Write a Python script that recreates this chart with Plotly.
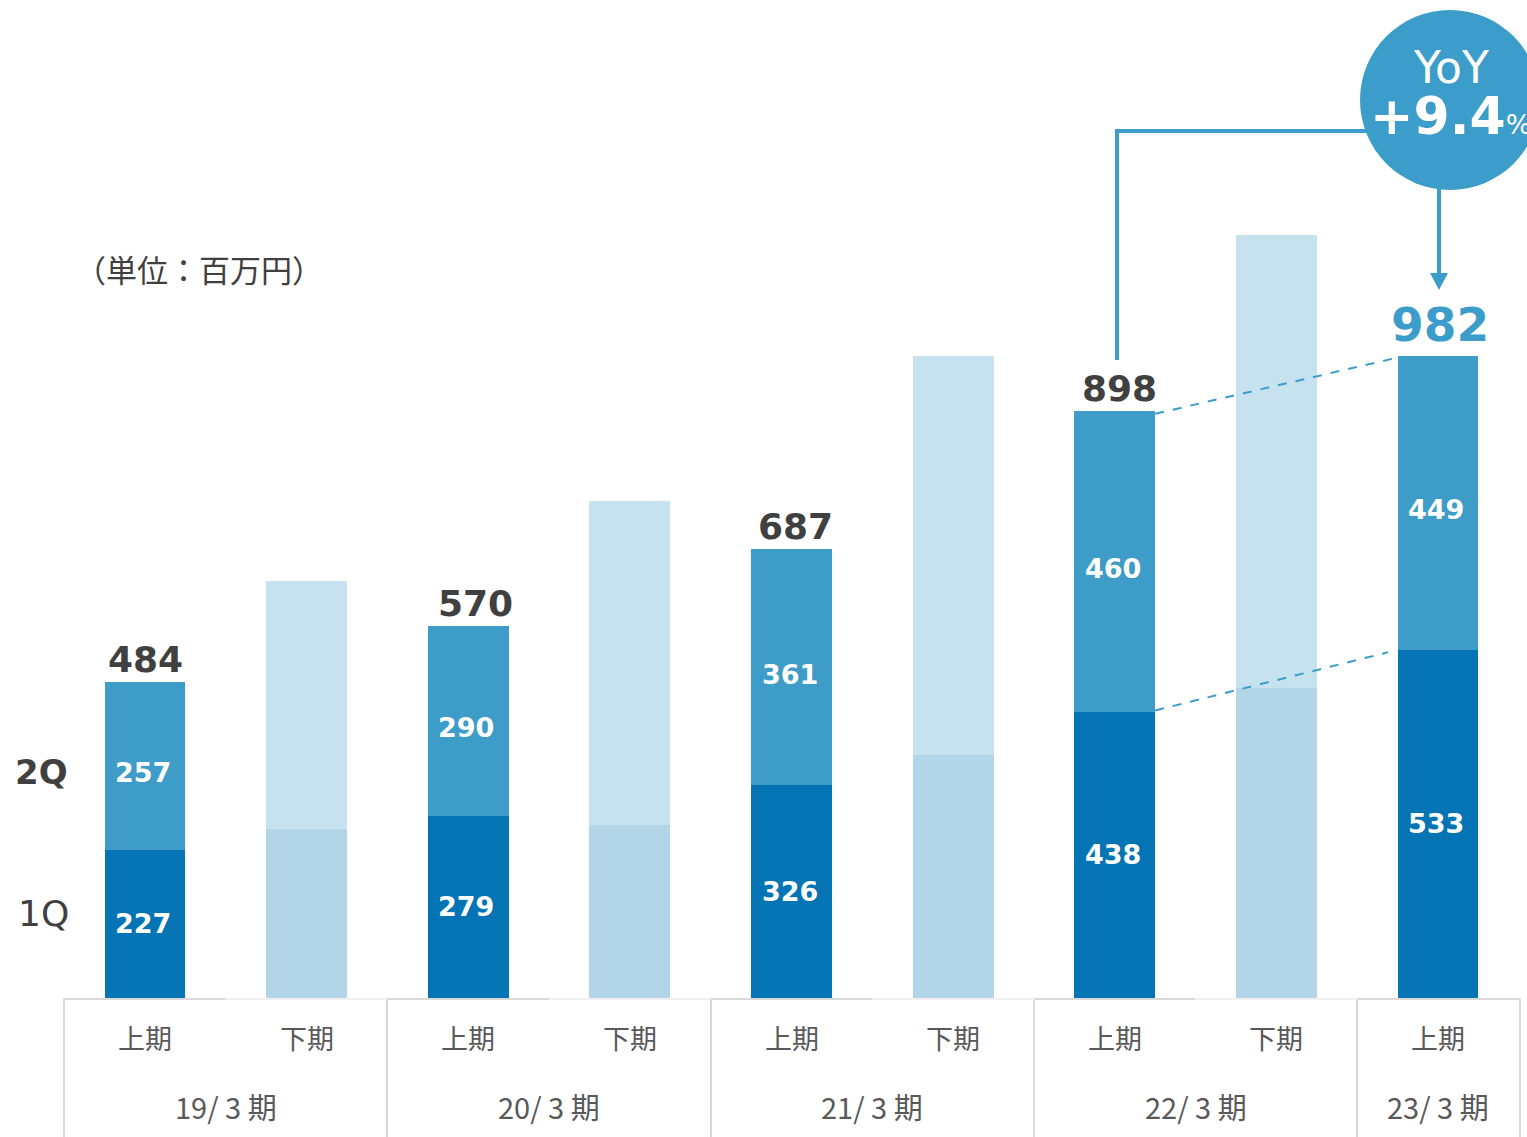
import plotly.graph_objects as go

# ---------------- data ----------------
fiscal_years = ["19/ 3 期", "20/ 3 期", "21/ 3 期", "22/ 3 期", "23/ 3 期"]
half_labels = ["上期", "下期", "上期", "下期", "上期", "下期", "上期", "下期", "上期"]
h1_q1 = [227, 279, 326, 438, 533]          # 上期 1Q
h1_q2 = [257, 290, 361, 460, 449]          # 上期 2Q
h1_total = [484, 570, 687, 898, 982]       # 上期 合計
h2_q3 = [259, 265, 372, 474]               # 下期 3Q (estimated, unlabeled)
h2_q4 = [379, 496, 611, 693]               # 下期 4Q (estimated, unlabeled)
yoy_text = "+9.4"

# ---------------- layout constants ----------------
W, H = 1527, 1137
BASE_PX = 998
C_Q1 = "#0474B4"
C_Q2 = "#3E9CC8"
C_Q3 = "#B3D5E8"
C_Q4 = "#C5E2EE"
C_ACC = "#3D9DCA"
TXT = "#404040"
TICK = "#595959"
NUM_FONT = "DejaVu Sans, Verdana, sans-serif"
JP_FONT = "Noto Sans CJK JP, sans-serif"

spacing = (1438 - 145) / 8.0
x_lo = -145 / spacing
x_hi = (W - 145) / spacing
px_per_unit = 0.6535
y_hi = BASE_PX / px_per_unit


def px(xp):
    return xp / W


def py(yp):
    return (BASE_PX - yp) / BASE_PX


x_h1 = [2 * i for i in range(len(h1_q1))]
x_h2 = [2 * i + 1 for i in range(len(h2_q3))]

fig = go.Figure()
fig.add_bar(x=x_h1, y=h1_q1, marker=dict(color=C_Q1, line=dict(width=0)), width=0.5, name="1Q")
fig.add_bar(x=x_h1, y=h1_q2, marker=dict(color=C_Q2, line=dict(width=0)), width=0.5, name="2Q")
fig.add_bar(x=x_h2, y=h2_q3, marker=dict(color=C_Q3, line=dict(width=0)), width=0.5, name="3Q")
fig.add_bar(x=x_h2, y=h2_q4, marker=dict(color=C_Q4, line=dict(width=0)), width=0.5, name="4Q")

ann = []


def add(**kw):
    kw.setdefault("showarrow", False)
    kw.setdefault("xanchor", "center")
    kw.setdefault("yanchor", "middle")
    ann.append(kw)


# inside labels
for xi, a, b in zip(x_h1, h1_q1, h1_q2):
    add(x=xi, y=a / 2, xref="x", yref="y", text=f"<b>{a}</b>", xshift=-2,
        font=dict(family=NUM_FONT, size=27, color="white"))
    add(x=xi, y=a + b / 2, xref="x", yref="y", text=f"<b>{b}</b>", yshift=-7, xshift=-2,
        font=dict(family=NUM_FONT, size=27, color="white"))
# totals
tot_xshift = [0, 7, 4, 5, 2]
for i, (xi, t) in enumerate(zip(x_h1, h1_total)):
    last = i == len(h1_total) - 1
    add(x=xi, y=t, xref="x", yref="y", text=f"<b>{t}</b>",
        yanchor="bottom", yshift=0 if not last else 2, xshift=tot_xshift[i],
        font=dict(family=NUM_FONT, size=47 if last else 36,
                  color=C_ACC if last else TXT))
# half labels
for i, lab in enumerate(half_labels):
    add(x=i, y=py(1037), xref="x", yref="paper", text=lab,
        font=dict(family=JP_FONT, size=27, color=TICK))
# fiscal year labels
for g, lab in enumerate(fiscal_years):
    cx = 2 * g + 0.5 if g < len(fiscal_years) - 1 else 2 * g
    add(x=cx, y=py(1106), xref="x", yref="paper", text=lab,
        font=dict(family=JP_FONT, size=29, color=TICK))
# 1Q / 2Q side labels
add(x=px(41), y=py(772), xref="paper", yref="paper", text="<b>2Q</b>",
    font=dict(family=NUM_FONT, size=34, color=TXT))
add(x=px(43), y=py(913), xref="paper", yref="paper", text="1Q",
    font=dict(family=NUM_FONT, size=36, color=TXT))
# unit label
add(x=px(199), y=py(268), xref="paper", yref="paper", text="（単位：百万円）",
    font=dict(family=JP_FONT, size=31, color=TXT))
# YoY bubble text
add(x=px(1451), y=py(68), xref="paper", yref="paper", text="YoY",
    font=dict(family=NUM_FONT, size=44, color="white"))
add(x=px(1368), y=py(116), xref="paper", yref="paper",
    text=f"<b>{yoy_text}</b><span style='font-size:27px'>%</span>",
    xanchor="left",
    font=dict(family=NUM_FONT, size=52, color="white"))

shapes = []
# table / axis lines
groups_px = [64, 387, 711, 1034, 1357, 1520]
for gx in groups_px:
    shapes.append(dict(type="line", xref="paper", yref="paper", x0=px(gx), x1=px(gx),
                       y0=py(998), y1=py(1140), line=dict(color="#D9D9D9", width=2)))
for k in range(len(groups_px) - 1):
    a, b = groups_px[k], groups_px[k + 1]
    mid = (a + b) / 2 if k < len(groups_px) - 2 else b
    shapes.append(dict(type="line", xref="paper", yref="paper", x0=px(a), x1=px(mid),
                       y0=py(999), y1=py(999), line=dict(color="#D9D9D9", width=2)))
    if mid < b:
        shapes.append(dict(type="line", xref="paper", yref="paper", x0=px(mid), x1=px(b),
                           y0=py(999), y1=py(999), line=dict(color="#F0F0F0", width=2)))
# dashed comparison lines
shapes.append(dict(type="line", xref="x", yref="y", x0=6.25, y0=h1_total[3] - 4,
                   x1=7.75, y1=h1_total[4] - 2, line=dict(color=C_ACC, width=2, dash="dash")))
shapes.append(dict(type="line", xref="x", yref="y", x0=6.25, y0=h1_q1[3] + 2,
                   x1=7.69, y1=h1_q1[4] - 4, line=dict(color=C_ACC, width=2, dash="dash")))
# connector
shapes.append(dict(type="path", xref="paper", yref="paper",
                   path=f"M {px(1117)} {py(360)} L {px(1117)} {py(131)} L {px(1400)} {py(131)}",
                   line=dict(color=C_ACC, width=4)))
# circle
shapes.append(dict(type="circle", xref="paper", yref="paper",
                   x0=px(1360), x1=px(1540), y0=py(190), y1=py(10),
                   fillcolor=C_ACC, line=dict(width=0)))
# arrow down
shapes.append(dict(type="line", xref="paper", yref="paper", x0=px(1439), x1=px(1439),
                   y0=py(185), y1=py(276), line=dict(color=C_ACC, width=4)))
shapes.append(dict(type="path", xref="paper", yref="paper",
                   path=f"M {px(1430)} {py(273)} L {px(1448)} {py(273)} L {px(1439)} {py(290)} Z",
                   fillcolor=C_ACC, line=dict(width=0)))

fig.update_layout(
    width=W, height=H,
    margin=dict(l=0, r=0, t=0, b=H - BASE_PX),
    barmode="stack", bargap=0,
    showlegend=False,
    plot_bgcolor="white", paper_bgcolor="white",
    xaxis=dict(range=[x_lo, x_hi], visible=False, fixedrange=True),
    yaxis=dict(range=[0, y_hi], visible=False, fixedrange=True),
    annotations=ann,
    shapes=shapes,
)

fig.write_html("out.html")
